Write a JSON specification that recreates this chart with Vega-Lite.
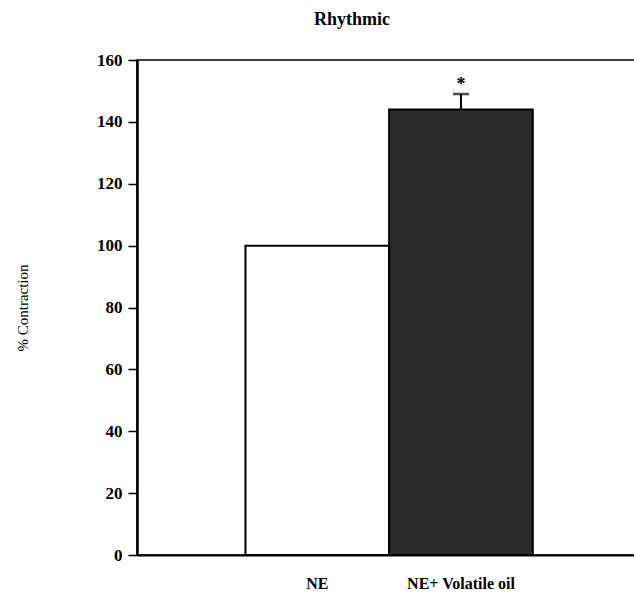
{
  "$schema": "https://vega.github.io/schema/vega-lite/v6.json",
  "autosize": "none",
  "padding": {"left": 137, "top": 60, "right": 0, "bottom": 51},
  "width": 500,
  "height": 495,
  "background": "white",
  "title": {
    "text": "Rhythmic",
    "font": "Liberation Serif",
    "fontSize": 18,
    "fontWeight": "bold",
    "color": "black",
    "anchor": "middle",
    "dx": -35,
    "offset": 22
  },
  "config": {
    "view": {"stroke": "black", "strokeWidth": 1.5},
    "axis": {
      "domainColor": "black",
      "tickColor": "black",
      "labelColor": "black",
      "titleColor": "black",
      "labelFont": "Liberation Serif",
      "titleFont": "Liberation Serif",
      "grid": false
    }
  },
  "data": {
    "values": [
      {"group": "NE", "mean": 100, "err": 0, "sig": ""},
      {"group": "NE+ Volatile oil", "mean": 144, "err": 5, "sig": "*"}
    ]
  },
  "encoding": {
    "x": {
      "field": "group",
      "type": "nominal",
      "sort": null,
      "scale": {"paddingInner": 0, "paddingOuter": 0.74, "align": 0.51},
      "axis": {
        "title": null,
        "labelAngle": 0,
        "labelFontSize": 16,
        "labelFontWeight": "bold",
        "labelPadding": 20,
        "ticks": false,
        "domainWidth": 2
      }
    }
  },
  "layer": [
    {
      "mark": {"type": "bar", "stroke": "black", "strokeWidth": 2},
      "encoding": {
        "y": {
          "field": "mean",
          "type": "quantitative",
          "scale": {"domain": [0, 160], "nice": false},
          "axis": {
            "title": "% Contraction",
            "titleFontSize": 15,
            "titleFontWeight": "normal",
            "titlePadding": 66,
            "labelFontSize": 17,
            "labelFontWeight": "bold",
            "labelPadding": 6,
            "values": [0, 20, 40, 60, 80, 100, 120, 140, 160],
            "tickSize": 9,
            "tickWidth": 1.5,
            "domainWidth": 2.5
          }
        },
        "fill": {
          "field": "group",
          "type": "nominal",
          "scale": {"range": ["white", "#2b2b2b"]},
          "legend": null
        }
      }
    },
    {
      "transform": [
        {"filter": "datum.err > 0"},
        {"calculate": "datum.mean + datum.err", "as": "hi"}
      ],
      "mark": {"type": "rule", "color": "black", "strokeWidth": 2},
      "encoding": {
        "y": {"field": "mean", "type": "quantitative"},
        "y2": {"field": "hi"}
      }
    },
    {
      "transform": [
        {"filter": "datum.err > 0"},
        {"calculate": "datum.mean + datum.err", "as": "hi"}
      ],
      "mark": {"type": "tick", "color": "black", "thickness": 2.5, "size": 16, "orient": "horizontal"},
      "encoding": {
        "y": {"field": "hi", "type": "quantitative"}
      }
    },
    {
      "transform": [
        {"filter": "datum.err > 0"},
        {"calculate": "datum.mean + datum.err", "as": "hi"}
      ],
      "mark": {"type": "text", "font": "Liberation Serif", "fontSize": 18, "fontWeight": "bold", "color": "black", "baseline": "bottom", "dy": 0},
      "encoding": {
        "y": {"field": "hi", "type": "quantitative"},
        "text": {"field": "sig"}
      }
    }
  ]
}
